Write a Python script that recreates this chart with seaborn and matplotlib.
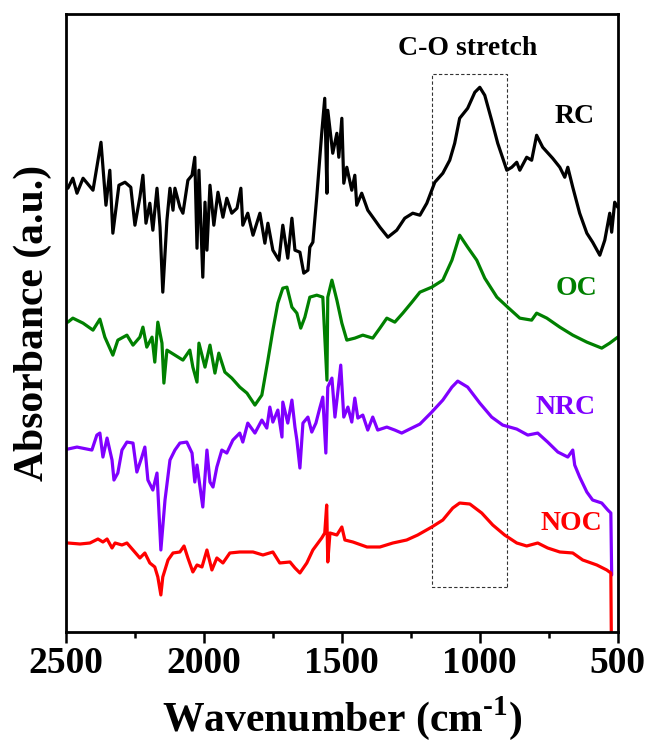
import numpy as np
import matplotlib
matplotlib.use("Agg")
import matplotlib.pyplot as plt
from matplotlib.patches import Rectangle
from matplotlib.ticker import MultipleLocator
import seaborn as sns

sns.set_style("ticks")
plt.rcParams["font.family"] = ["Liberation Serif", "DejaVu Serif"]
plt.rcParams["font.weight"] = "bold"
plt.rcParams["axes.labelweight"] = "bold"
plt.rcParams["text.color"] = "black"
plt.rcParams["axes.labelcolor"] = "black"
plt.rcParams["xtick.color"] = "black"
plt.rcParams["axes.edgecolor"] = "black"
plt.rcParams["mathtext.fontset"] = "custom"
plt.rcParams["mathtext.rm"] = "Liberation Serif:bold"
plt.rcParams["mathtext.bf"] = "Liberation Serif:bold"

# =======================
# Data (offset a.u.)
# =======================
rc_wn = [2493, 2475, 2460, 2438, 2402, 2373, 2355, 2341, 2330, 2308, 2286, 2265, 2250, 2232, 2221,
         2210, 2196, 2185, 2170, 2159, 2149, 2134, 2123, 2112, 2105, 2087, 2076, 2058, 2043, 2033,
         2025, 2018, 2004, 1996, 1989, 1978, 1964, 1949, 1931, 1917, 1899, 1880, 1866, 1859, 1841,
         1822, 1797, 1779, 1768, 1750, 1728, 1714, 1696, 1681, 1670, 1652, 1638, 1623, 1616, 1605,
         1591, 1573, 1562, 1554, 1551, 1533, 1518, 1511, 1500, 1493, 1482, 1464, 1453, 1446, 1428,
         1406, 1380, 1362, 1333, 1301, 1272, 1243, 1217, 1192, 1163, 1134, 1109, 1091, 1073, 1044,
         1018, 1000, 982, 957, 935, 902, 884, 866, 855, 830, 812, 794, 772, 736, 710,
         692, 681, 663, 638, 612, 591, 565, 547, 529, 522, 511, 500]
rc_abs = [4.44, 4.54, 4.39, 4.54, 4.42, 4.90, 4.27, 4.62, 3.99, 4.47, 4.50, 4.45, 4.07, 4.35, 4.57,
          4.09, 4.29, 4.02, 4.44, 4.05, 3.40, 4.12, 4.44, 4.22, 4.44, 4.25, 4.19, 4.52, 4.57, 4.75,
          3.84, 4.62, 3.55, 4.30, 3.82, 4.47, 4.07, 4.40, 4.15, 4.34, 4.19, 4.24, 4.44, 4.07, 4.19,
          3.97, 4.19, 3.89, 4.09, 3.82, 3.72, 4.07, 3.74, 4.14, 3.82, 3.80, 3.59, 3.62, 3.85, 3.90,
          4.35, 4.99, 5.34, 4.39, 5.22, 4.79, 4.99, 4.75, 5.14, 4.49, 4.65, 4.42, 4.57, 4.27, 4.39,
          4.22, 4.12, 4.05, 3.95, 4.02, 4.14, 4.19, 4.17, 4.29, 4.50, 4.59, 4.72, 4.89, 5.14, 5.24,
          5.40, 5.45, 5.37, 5.12, 4.89, 4.62, 4.65, 4.70, 4.62, 4.75, 4.72, 4.97, 4.85, 4.74, 4.65,
          4.55, 4.65, 4.45, 4.19, 3.99, 3.90, 3.77, 3.92, 4.19, 4.00, 4.30, 4.25]

oc_wn = [2493, 2475, 2438, 2402, 2377, 2359, 2330, 2312, 2279, 2257, 2232, 2221, 2207, 2188, 2178,
         2167, 2152, 2145, 2134, 2105, 2076, 2051, 2040, 2025, 2018, 1996, 1978, 1960, 1946, 1924,
         1899, 1870, 1844, 1815, 1790, 1768, 1750, 1732, 1714, 1699, 1681, 1663, 1649, 1634, 1616,
         1591, 1569, 1554, 1551, 1536, 1518, 1500, 1482, 1453, 1424, 1388, 1362, 1337, 1308, 1279,
         1246, 1217, 1174, 1134, 1101, 1073, 1044, 1011, 982, 938, 899, 855, 812, 794, 757,
         710, 663, 612, 558, 529, 500]
oc_abs = [3.10, 3.14, 3.09, 3.02, 3.13, 2.95, 2.77, 2.92, 2.97, 2.87, 2.95, 3.05, 2.85, 2.95, 2.70,
          3.10, 2.89, 2.49, 2.82, 2.77, 2.72, 2.82, 2.65, 2.50, 2.89, 2.65, 2.87, 2.59, 2.79, 2.60,
          2.54, 2.45, 2.39, 2.27, 2.37, 2.72, 3.02, 3.29, 3.44, 3.45, 3.25, 3.19, 3.04, 3.15, 3.35,
          3.37, 3.35, 2.52, 3.35, 3.52, 3.32, 3.09, 2.92, 2.94, 2.97, 2.94, 3.04, 3.14, 3.10, 3.19,
          3.30, 3.40, 3.45, 3.52, 3.72, 3.97, 3.85, 3.72, 3.54, 3.35, 3.25, 3.14, 3.12, 3.19, 3.14,
          3.05, 2.97, 2.90, 2.84, 2.89, 2.95]

nrc_wn = [2493, 2460, 2406, 2388, 2377, 2366, 2351, 2333, 2326, 2312, 2297, 2279, 2257, 2243, 2225,
          2214, 2203, 2185, 2170, 2156, 2141, 2123, 2105, 2087, 2062, 2043, 2033, 2025, 2004, 1989,
          1978, 1967, 1953, 1935, 1917, 1895, 1870, 1859, 1841, 1815, 1790, 1772, 1761, 1750, 1732,
          1717, 1714, 1696, 1681, 1670, 1663, 1652, 1641, 1623, 1609, 1594, 1580, 1569, 1558, 1551,
          1536, 1525, 1515, 1504, 1493, 1478, 1464, 1453, 1442, 1424, 1406, 1388, 1370, 1337, 1308,
          1283, 1254, 1217, 1174, 1134, 1101, 1080, 1044, 1000, 957, 917, 866, 826, 790, 754,
          717, 681, 663, 656, 638, 612, 591, 558, 536, 525, 522]
nrc_abs = [1.83, 1.85, 1.82, 1.97, 1.99, 1.75, 1.94, 1.72, 1.52, 1.59, 1.82, 1.90, 1.89, 1.60, 1.75,
           1.85, 1.52, 1.42, 1.59, 0.82, 1.32, 1.72, 1.82, 1.89, 1.90, 1.79, 1.50, 1.67, 1.25, 1.82,
           1.50, 1.45, 1.65, 1.82, 1.79, 1.92, 1.99, 1.90, 2.09, 1.99, 2.12, 2.04, 2.25, 2.10, 2.22,
           1.95, 2.30, 2.09, 2.32, 2.05, 1.92, 1.64, 2.09, 2.15, 2.00, 2.09, 2.24, 2.35, 1.79, 2.45,
           2.54, 2.15, 2.39, 2.67, 2.15, 2.25, 2.10, 2.34, 2.14, 2.17, 2.02, 2.15, 2.02, 2.05, 2.02,
           1.99, 2.03, 2.08, 2.20, 2.32, 2.45, 2.51, 2.45, 2.29, 2.15, 2.07, 2.03, 1.97, 1.99, 1.90,
           1.80, 1.75, 1.82, 1.67, 1.55, 1.40, 1.32, 1.29, 1.22, 1.19, 0.57]

noc_wn = [2493, 2449, 2413, 2384, 2366, 2351, 2333, 2322, 2297, 2279, 2257, 2232, 2214, 2196, 2178,
          2167, 2156, 2149, 2130, 2112, 2087, 2072, 2058, 2040, 2025, 2007, 1989, 1971, 1953, 1931,
          1906, 1870, 1822, 1786, 1750, 1725, 1688, 1670, 1652, 1627, 1605, 1573, 1562, 1555, 1551,
          1543, 1518, 1500, 1489, 1460, 1409, 1362, 1315, 1265, 1225, 1174, 1134, 1098, 1073, 1036,
          993, 953, 910, 866, 830, 790, 754, 710, 663, 627, 576, 540, 525, 522]
noc_abs = [0.89, 0.88, 0.89, 0.93, 0.90, 0.93, 0.84, 0.89, 0.87, 0.89, 0.82, 0.74, 0.79, 0.69, 0.65,
           0.55, 0.37, 0.55, 0.72, 0.79, 0.80, 0.86, 0.74, 0.60, 0.67, 0.65, 0.82, 0.62, 0.74, 0.69,
           0.79, 0.80, 0.80, 0.77, 0.80, 0.69, 0.70, 0.64, 0.59, 0.69, 0.82, 0.94, 0.99, 1.27, 0.70,
           0.99, 0.97, 1.05, 0.92, 0.90, 0.85, 0.85, 0.89, 0.92, 0.97, 1.05, 1.12, 1.24, 1.29, 1.28,
           1.19, 1.07, 0.97, 0.89, 0.86, 0.89, 0.84, 0.80, 0.79, 0.72, 0.67, 0.62, 0.59, -0.50]

names = ["RC", "OC", "NRC", "NOC"]
colors = ["#000000", "#008000", "#8000ff", "#ff0000"]
label_wn = [656, 649, 688, 667]
label_abs = [5.16, 3.44, 2.25, 1.09]

# C-O stretch band
band_hi, band_lo = 1175, 900
band_top, band_bottom = 5.58, 0.45

# =======================
# Plot
# =======================
fig = plt.figure(figsize=(6.53, 7.55), dpi=100)
ax = fig.add_axes([0.101, 0.163, 0.845, 0.818])

series = [(rc_wn, rc_abs), (oc_wn, oc_abs), (nrc_wn, nrc_abs), (noc_wn, noc_abs)]
for (wn, ab), c in zip(series, colors):
    sns.lineplot(x=wn, y=ab, color=c, lw=2.3, sort=False, estimator=None, ax=ax)

for name, c, xw, ya in zip(names, colors, label_wn, label_abs):
    ax.text(xw, ya, name, color=c, fontsize=20, fontweight="bold", ha="center", va="center")

ax.add_patch(Rectangle((band_lo, band_bottom), band_hi - band_lo, band_top - band_bottom,
                       fill=False, ls=(0, (3, 2)), lw=0.8, ec="#333333"))
ax.text((band_hi + band_lo) / 2 + 8, 5.84, "C-O stretch", fontsize=20, fontweight="bold",
        ha="center", va="center")

ax.set_xlim(2500, 500)
ax.set_ylim(0, 6.18)
ax.xaxis.set_major_locator(MultipleLocator(500))
ax.xaxis.set_minor_locator(MultipleLocator(250))
ax.set_yticks([])
ax.tick_params(axis="x", which="major", direction="out", length=8, width=1.8, labelsize=27, pad=2)
ax.tick_params(axis="x", which="minor", direction="out", length=4, width=1.8)
for s in ax.spines.values():
    s.set_linewidth(2)
ax.set_xlabel("Wavenumber (cm$^{\\text{-1}}$)", fontsize=30, labelpad=10)
ax.set_ylabel("Absorbance (a.u.)", fontsize=30, labelpad=10)

fig.savefig("out.png", dpi=100)
